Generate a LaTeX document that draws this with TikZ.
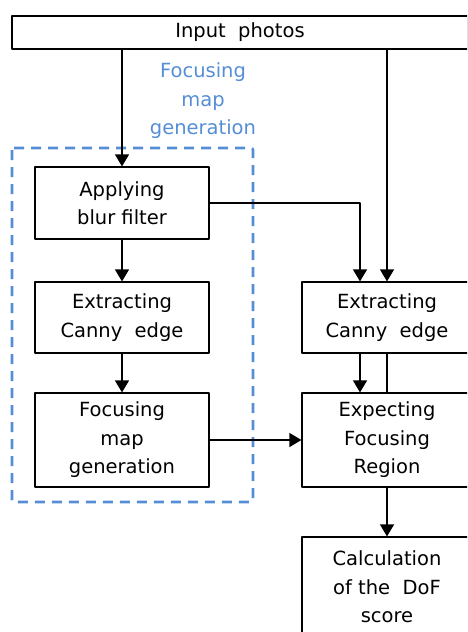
\documentclass[tikz,border=0pt]{standalone}
\usepackage{fontspec}
\setmainfont{DejaVu Sans}
\usetikzlibrary{arrows.meta}
\definecolor{mapblue}{RGB}{85,142,213}
\tikzset{
  stepbox/.style={draw,line width=1.2pt,align=center,inner sep=0pt,
    minimum width=174pt,font=\fontsize{19.5}{28.5}\selectfont},
  rightbox/.style={stepbox,minimum width=170pt},
  maplabel/.style={align=center,text=mapblue,inner sep=0pt,font=\fontsize{19.5}{28.5}\selectfont},
  flow/.style={->,line width=1.2pt}
}
\begin{document}
\begin{tikzpicture}[line cap=round,line join=round,>={Triangle[length=12pt,width=14pt]},x=1pt,y=-1pt]
                  \useasboundingbox (0,0) rectangle (467,632);
                  \clip (0,0) rectangle (467,632);
                  \draw[mapblue,line width=2.6pt,line cap=butt,dash pattern=on 10pt off 7pt,rounded corners=2pt] (12,148) rectangle (253,502);
                  \node[maplabel] (maplbl) at (203,101) {Focusing\\map\\generation};
                  \node[stepbox,minimum width=456pt,minimum height=33pt] (input) at (240,32.5) {Input\ \ photos};
                  \node[stepbox,minimum height=72pt] (blur) at (122,203) {Applying\\blur filter};
                  \node[stepbox,minimum height=71pt] (cannyL) at (122,317.5) {Extracting\\Canny\ \ edge};
                  \node[stepbox,minimum height=94pt] (focus) at (122,440) {Focusing\\map\\generation};
                  \node[rightbox,minimum height=71pt] (cannyR) at (387,317.5) {Extracting\\Canny\ \ edge};
                  \node[rightbox,minimum height=94pt] (expect) at (387,440) {Expecting\\Focusing\\Region};
                  \node[rightbox,minimum height=100pt,text depth=0pt] (calc) at (387,587) {Calculation\\of the\ \ DoF\\score};
                  \draw[flow] (blur.north |- input.south) -- (blur.north);
                  \draw[flow] (cannyR.north |- input.south) -- (cannyR.north);
                  \draw[flow] (blur.east) -| ([xshift=-27pt]cannyR.north);
                  \draw[flow] (blur.south) -- (cannyL.north);
                  \draw[flow] (cannyL.south) -- (focus.north);
                  \draw[flow] ([xshift=-27pt]cannyR.south) -- ([xshift=-27pt]expect.north);
                  \draw[line width=1.2pt] (cannyR.south) -- (expect.north);
                  \draw[flow] (focus.east) -- (expect.west);
                  \draw[flow] (expect.south) -- (calc.north);
\end{tikzpicture}
\end{document}
